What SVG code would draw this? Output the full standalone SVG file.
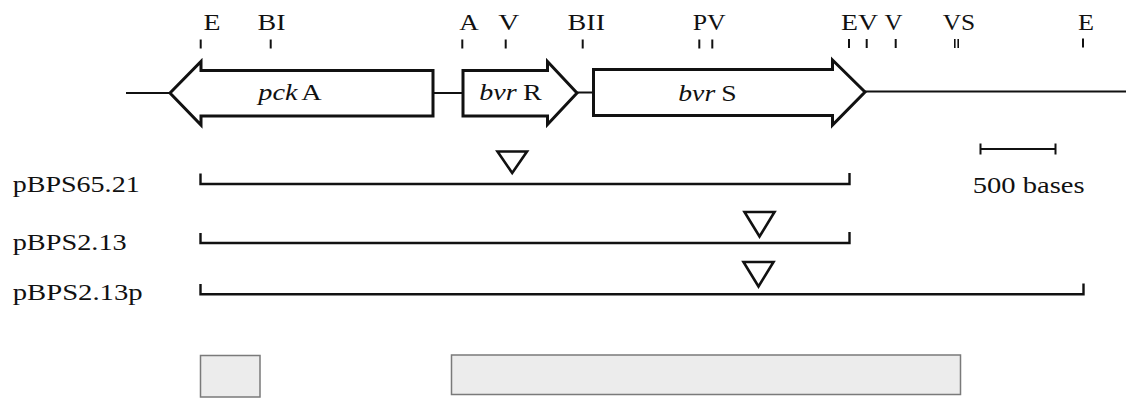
<svg xmlns="http://www.w3.org/2000/svg" width="1126" height="399" viewBox="0 0 1126 399">
  <style>
    text { font-family: "Liberation Serif", "Times New Roman", serif; font-size: 22.5px; fill: #111; }
    .it { font-style: italic; }
    .tick { stroke: #111; stroke-width: 2; }
    .gene { fill: #fff; stroke: #111; stroke-width: 3; stroke-linejoin: miter; }
    .dna { stroke: #111; stroke-width: 2; fill: none; }
    .clone { stroke: #111; stroke-width: 2.4; fill: none; stroke-linejoin: miter; }
    .ins { fill: #fff; stroke: #111; stroke-width: 2.6; stroke-linejoin: miter; }
    .region { fill: #ececec; stroke: #7a7a7a; stroke-width: 1.5; }
  </style>

  <!-- DNA backbone between the genes -->
  <g id="connectors">
    <line class="dna" x1="126" y1="93" x2="171" y2="93"/>
    <line class="dna" x1="433" y1="93" x2="463" y2="93"/>
    <line class="dna" x1="576" y1="92.5" x2="594" y2="92.5"/>
    <line class="dna" x1="864" y1="91.5" x2="1126" y2="91.5"/>
  </g>

  <!-- restriction sites -->
  <g id="sites">
    <line class="tick" x1="200.7" y1="39.5" x2="200.7" y2="48.5"/>
    <line class="tick" x1="270.7" y1="39.5" x2="270.7" y2="48.5"/>
    <line class="tick" x1="462.3" y1="39.5" x2="462.3" y2="48.5"/>
    <line class="tick" x1="505.7" y1="39.5" x2="505.7" y2="48.5"/>
    <line class="tick" x1="582.7" y1="39.5" x2="582.7" y2="48.5"/>
    <line class="tick" x1="699.3" y1="39.5" x2="699.3" y2="48.5"/>
    <line class="tick" x1="712.3" y1="39.5" x2="712.3" y2="48.5"/>
    <line class="tick" x1="849" y1="39" x2="849" y2="48"/>
    <line class="tick" x1="866.7" y1="39" x2="866.7" y2="48"/>
    <line class="tick" x1="895.7" y1="39" x2="895.7" y2="48"/>
    <line class="tick" x1="954.8" y1="39" x2="954.8" y2="48" style="stroke-width:1.6"/>
    <line class="tick" x1="958.2" y1="39" x2="958.2" y2="48" style="stroke-width:1.6"/>
    <line class="tick" x1="1083" y1="38.5" x2="1083" y2="47.5"/>
    <text x="203.5" y="29.5" textLength="17" lengthAdjust="spacingAndGlyphs">E</text>
    <text x="257.5" y="29.5" textLength="28" lengthAdjust="spacingAndGlyphs">BI</text>
    <text x="459.3" y="29.5" textLength="19.5" lengthAdjust="spacingAndGlyphs">A</text>
    <text x="498.3" y="29.5" textLength="21" lengthAdjust="spacingAndGlyphs">V</text>
    <text x="567.5" y="29.5" textLength="37.5" lengthAdjust="spacingAndGlyphs">BII</text>
    <text x="692.7" y="29.5" textLength="33" lengthAdjust="spacingAndGlyphs">PV</text>
    <text x="841" y="29.5" textLength="37" lengthAdjust="spacingAndGlyphs">EV</text>
    <text x="884.5" y="29.5" textLength="18" lengthAdjust="spacingAndGlyphs">V</text>
    <text x="942.7" y="29.5" textLength="32.5" lengthAdjust="spacingAndGlyphs">VS</text>
    <text x="1078" y="29.5" textLength="16" lengthAdjust="spacingAndGlyphs">E</text>
  </g>

  <!-- genes -->
  <g id="pckA">
    <path class="gene" d="M170,93 L201,61.5 L201,70.5 L433,70.5 L433,116 L201,116 L201,125 Z"/>
    <text x="258.3" y="100" textLength="63.4" lengthAdjust="spacingAndGlyphs"><tspan class="it">pck</tspan><tspan dx="3">A</tspan></text>
  </g>
  <g id="bvrR">
    <path class="gene" d="M463,70.5 L547.5,70.5 L547.5,61.5 L577,93 L547.5,124.5 L547.5,116 L463,116 Z"/>
    <text x="479.3" y="100" textLength="62.4" lengthAdjust="spacingAndGlyphs"><tspan class="it">bvr</tspan><tspan dx="5">R</tspan></text>
  </g>
  <g id="bvrS">
    <path class="gene" d="M593.5,69.5 L832.5,69.5 L832.5,60 L865,92 L832.5,125 L832.5,115.5 L593.5,115.5 Z"/>
    <text x="678.3" y="101" textLength="58.4" lengthAdjust="spacingAndGlyphs"><tspan class="it">bvr</tspan><tspan dx="5">S</tspan></text>
  </g>

  <!-- scale bar -->
  <g id="scale">
    <path class="clone" d="M980.5,149 H1055.5 M980.5,143.5 V154.5 M1055.5,143.5 V154.5" style="stroke-width:2"/>
    <text x="972.7" y="193" textLength="112" lengthAdjust="spacingAndGlyphs">500 bases</text>
  </g>

  <!-- clones with insertion sites -->
  <g id="pBPS65.21">
    <text x="12.7" y="192.3" textLength="127" lengthAdjust="spacingAndGlyphs">pBPS65.21</text>
    <path class="clone" d="M200.5,173.5 V184 H849.5 V173"/>
    <path class="ins" d="M497.5,151.5 H527 L512.2,173 Z"/>
  </g>
  <g id="pBPS2.13">
    <text x="12.7" y="250" textLength="114" lengthAdjust="spacingAndGlyphs">pBPS2.13</text>
    <path class="clone" d="M200.5,233 V243 H849.5 V232"/>
    <path class="ins" d="M744.5,212 H774.5 L759.5,236.5 Z"/>
  </g>
  <g id="pBPS2.13p">
    <text x="12.7" y="300" textLength="130" lengthAdjust="spacingAndGlyphs">pBPS2.13p</text>
    <path class="clone" d="M200.5,284 V294.3 H1083.5 V283.5"/>
    <path class="ins" d="M743.5,262 H773.5 L758.5,286.5 Z"/>
  </g>

  <!-- shaded regions -->
  <g id="region1">
    <rect class="region" x="200.5" y="355.5" width="59.5" height="41.5"/>
  </g>
  <g id="region2">
    <rect class="region" x="451.5" y="355" width="509" height="39.5"/>
  </g>
</svg>
